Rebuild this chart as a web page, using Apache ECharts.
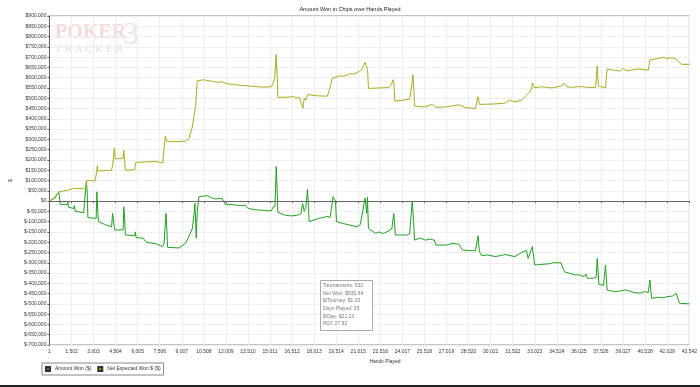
<!DOCTYPE html>
<html>
<head>
<meta charset="utf-8">
<script src="https://cdn.jsdelivr.net/npm/echarts@6/dist/echarts.min.js"></script>
<style>
html,body{margin:0;padding:0;background:#fff;}
#chart{width:700px;height:387px;}
</style>
</head>
<body>
<div id="chart"></div>
<script>
// ---- Data ----
const titleText = 'Amount Won in Chips over Hands Played';
const seriesNames = ['Amount Won ($)', 'Net Expected Won $ ($)'];
const xTicks = [1,1502,3003,4504,6005,7506,9007,10508,12009,13510,15011,16512,18013,19514,21015,22516,24017,25518,27019,28520,30021,31522,33023,34524,36025,37526,39027,40528,42029,43542];

// [hand, dollars]
const amountWon = [
[1,0],[380,15000],[630,45000],[700,10000],[740,-16000],[1210,-18000],[1250,-5000],[1300,-30000],[1660,-36000],[1700,-22000],
[1770,-50000],[2330,-56000],[2450,-50000],[2510,94000],[2560,60000],[2620,-81000],[3180,-84000],[3230,45000],[3300,-60000],[3340,-100000],
[3800,-115000],[4230,-125000],[4300,-60000],[4400,-120000],[4460,-141000],[5020,-140000],[5060,-28000],[5120,-80000],[5170,-165000],[5800,-168000],
[5850,-150000],[5900,-178000],[6360,-180000],[6590,-200000],[7260,-208000],[7710,-222000],[7800,-205000],[7930,-60000],[8000,-150000],[8040,-225000],
[8150,-230000],[8820,-228000],[9270,-205000],[9500,-170000],[9720,-135000],[9850,-60000],[9900,-11000],[9990,-180000],[10060,-50000],[10170,21000],
[10730,26000],[10950,18000],[11300,10000],[11738,14000],[11962,-15000],[12500,-18000],[13000,-22000],[13306,-20000],[13530,-36000],[14000,-42000],
[14500,-45000],[15097,-48000],[15210,-30000],[15350,-25000],[15434,167000],[15500,40000],[15546,-55000],[15590,-60000],[16000,-68000],[16400,-72000],
[16800,-70000],[17113,-62000],[17226,-11000],[17338,-50000],[17450,-30000],[17562,58000],[17674,-100000],[18300,-85000],[18906,-75000],[19100,-80000],
[19300,21000],[19466,0],[19533,-100000],[20026,-110000],[20922,-125000],[21150,-115000],[21482,15000],[21594,-60000],[21640,20000],[21706,-133000],
[22200,-157000],[22400,-150000],[22714,-158000],[23100,-145000],[23300,-135000],[23430,-60000],[23542,-165000],[24300,-165000],[24506,-160000],[24690,-3000],
[24780,-100000],[24842,-190000],[25200,-180000],[25600,-190000],[25850,-185000],[26186,-190000],[26298,-214000],[27000,-214000],[27400,-206000],[27866,-210000],
[28090,-238000],[28500,-240000],[28986,-242000],[29165,-169000],[29254,-245000],[29400,-266000],[29800,-262000],[30330,-270000],[30700,-265000],[31000,-260000],
[31674,-270000],[32122,-250000],[32458,-240000],[32570,-279000],[32861,-222000],[33018,-311000],[33500,-308000],[34000,-305000],[34300,-300000],[34810,-300000],
[35034,-344000],[35800,-360000],[36000,-358000],[36378,-368000],[36500,-355000],[36602,-376000],[37050,-375000],[37200,-370000],[37274,-279000],[37386,-405000],
[37700,-410000],[37834,-311000],[37946,-433000],[38000,-435000],[38400,-440000],[38800,-438000],[39200,-432000],[39800,-445000],[40200,-448000],[40500,-440000],
[40746,-445000],[40858,-384000],[40970,-473000],[41400,-468000],[41800,-470000],[42000,-465000],[42400,-462000],[42650,-449000],[42874,-497000],[43542,-500000]
];

const netExpectedWon = [
[1,0],[300,15000],[650,45000],[700,50000],[1210,52000],[1660,62000],[1770,57000],[2330,60000],[2500,66000],[2550,100000],
[3110,98000],[3200,105000],[3230,150000],[3260,172000],[3300,146000],[3800,148000],[4230,150000],[4300,175000],[4350,200000],[4420,258000],
[4480,205000],[5020,208000],[5060,248000],[5150,240000],[5170,150000],[5800,152000],[5870,188000],[6500,190000],[7200,193000],[7710,185000],
[7820,180000],[7890,315000],[8000,290000],[8600,288000],[9270,292000],[9500,305000],[9610,300000],[9720,360000],[9850,420000],[9950,460000],
[10060,585000],[10500,590000],[11000,583000],[11500,577000],[11700,581000],[12100,570000],[12500,568000],[13000,563000],[13800,558000],[14600,554000],
[15097,556000],[15210,572000],[15322,598000],[15434,713000],[15500,600000],[15546,504000],[16300,506000],[16600,508000],[16800,502000],[17000,505000],
[17113,480000],[17250,451000],[17338,500000],[17450,490000],[17562,518000],[18200,512000],[18906,510000],[19050,540000],[19242,597000],[19578,605000],
[19800,610000],[20000,606000],[20300,615000],[20500,620000],[20700,617000],[21034,629000],[21250,640000],[21482,675000],[21650,640000],[21706,548000],
[22400,550000],[23050,552000],[23250,565000],[23386,590000],[23450,560000],[23498,486000],[24000,490000],[24506,495000],[24650,560000],[24730,615000],
[24800,540000],[24842,462000],[25500,458000],[26074,470000],[26300,456000],[27000,458000],[27866,468000],[28300,455000],[28986,450000],[29100,490000],
[29165,507000],[29250,470000],[30200,472000],[31002,476000],[31300,490000],[31674,482000],[32122,490000],[32458,515000],[32682,531000],[32800,545000],
[32861,575000],[33018,551000],[33500,556000],[34200,550000],[34800,560000],[35034,572000],[35200,556000],[35600,553000],[36000,557000],[36378,555000],
[36800,552000],[37162,553000],[37274,658000],[37350,560000],[37386,551000],[37834,550000],[37946,642000],[38400,637000],[38842,632000],[39000,645000],
[39300,633000],[40000,642000],[40746,637000],[40858,686000],[41500,695000],[41800,700000],[42000,693000],[42300,697000],[42650,690000],[42986,665000],
[43542,665000]
];

const infoLines = ['Tournaments: 532','Net Won: $530.64','$/Tourney: $1.00','Days Played: 25','$/Day: $21.23','ROI: 27.92'];

// ---- Chart ----
const chart = echarts.init(document.getElementById('chart'), null, {renderer:'canvas'});
const FONT = 'Liberation Sans';
function fmtMoney(v){
  const s = Math.abs(v).toLocaleString('en-US');
  return v < 0 ? '$-' + s : '$' + s;
}

const graphics = [
  {type:'text', left:55, top:23, z:0, style:{text:'POKER', font:'bold 20px "Liberation Serif"', fill:'#f4d9d9'}},
  {type:'text', left:55, top:44, z:0, style:{text:'T R A C K E R', font:'11px "Liberation Serif"', fill:'#e0e0e0'}},
  {type:'text', left:123, top:20, z:0, style:{text:'3', font:'32px "Liberation Serif"', fill:'#dcefdc'}},
  {type:'rect', left:320, top:280, z:10, shape:{width:52, height:50}, style:{fill:'#fff', stroke:'#aaa', lineWidth:1}},
  {type:'rect', left:0, top:385, shape:{width:700, height:2}, style:{fill:'#222'}}
];
infoLines.forEach((t,i)=>{
  graphics.push({type:'text', left:323, top:283 + i*7.7, z:11, style:{text:t, font:'5px "'+FONT+'"', fill:'#777'}});
});

chart.setOption({
  animation:false,
  backgroundColor:'#fff',
  title:{text:titleText, left:'center', top:1, textStyle:{fontSize:5.5, fontWeight:'normal', color:'#222', fontFamily:FONT}},
  legend:{
    left:42, top:363, orient:'horizontal',
    data:seriesNames,
    itemWidth:4, itemHeight:4, itemGap:6,
    icon:'rect',
    padding:[3,3,3,3],
    borderColor:'#888', borderWidth:1,
    textStyle:{fontSize:5, color:'#333', fontFamily:FONT}
  },
  grid:{left:42, right:10, top:16, bottom:42, show:true, borderColor:'#888', borderWidth:1},
  xAxis:{
    type:'value', min:1, max:43542,
    name:'Hands Played', nameLocation:'middle', nameGap:13,
    nameTextStyle:{fontSize:5, color:'#333', align:'left', fontFamily:FONT},
    axisLine:{show:true, lineStyle:{color:'#666'}},
    axisTick:{show:true, length:2, lineStyle:{color:'#666'}, customValues:xTicks},
    axisLabel:{fontSize:5, color:'#333', margin:4, fontFamily:FONT, customValues:xTicks,
      formatter:v=>Math.round(v).toLocaleString('en-US')},
    splitLine:{show:true, lineStyle:{color:'#eeeeee', width:1}}
  },
  yAxis:{
    type:'value', min:-700000, max:900000, interval:50000,
    name:'$', nameLocation:'middle', nameGap:26, nameRotate:90,
    nameTextStyle:{fontSize:5, color:'#333', fontFamily:FONT},
    axisLine:{show:true, lineStyle:{color:'#666'}},
    axisTick:{show:true, length:2, lineStyle:{color:'#666'}},
    axisLabel:{fontSize:5, color:'#333', margin:3, fontFamily:FONT, formatter:fmtMoney},
    splitLine:{show:true, lineStyle:{color:'#eeeeee', width:1}}
  },
  series:[
    {name:seriesNames[0], type:'line', data:amountWon, showSymbol:false, symbol:'none',
     color:'#1f9e1f', lineStyle:{width:1, color:'#22a022'},
     itemStyle:{color:'#1a8c1a', borderColor:'#333', borderWidth:0.5},
     markLine:{silent:true, symbol:'none', label:{show:false}, lineStyle:{color:'#666', width:1, type:'solid'}, data:[{yAxis:0}]},
     z:3},
    {name:seriesNames[1], type:'line', data:netExpectedWon, showSymbol:false, symbol:'none',
     color:'#a8a81c', lineStyle:{width:1, color:'#aaaa22'},
     itemStyle:{color:'#a3a300', borderColor:'#333', borderWidth:0.5},
     z:3}
  ],
  graphic:graphics
});
</script>
</body>
</html>
